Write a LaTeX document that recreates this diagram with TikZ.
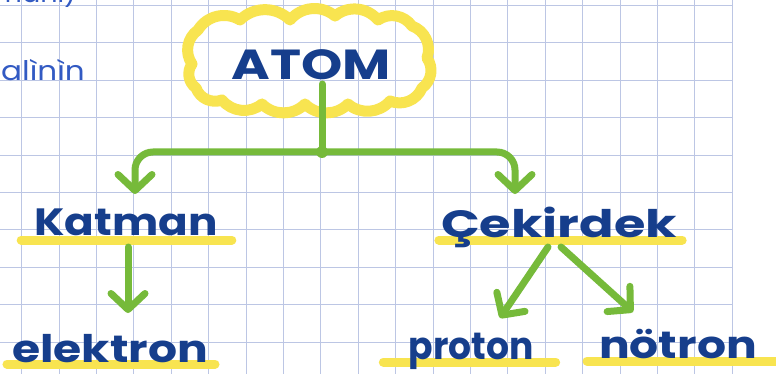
\documentclass[tikz,border=0pt]{standalone}
\usepackage{fontspec}
\newfontfamily\hand{Poppins}
\usetikzlibrary{arrows.meta}
\definecolor{ink}{RGB}{22,62,140}
\definecolor{pen}{RGB}{50,90,195}
\definecolor{hlyel}{RGB}{248,228,80}
\definecolor{grn}{RGB}{118,186,58}
\definecolor{gridc}{RGB}{188,198,228}
\pgfdeclarelayer{bg}
\pgfsetlayers{bg,main}
\tikzset{
  word/.style={font=\hand\bfseries\fontsize{38}{38}\selectfont, text=ink, inner sep=0pt},
  penword/.style={font=\hand\fontsize{27}{27}\selectfont, text=pen, inner sep=0pt},
  hl/.style={draw=hlyel, line width=9pt, line cap=round},
  cloudline/.style={draw=hlyel, line width=11pt, line join=round, line cap=round},
  gline/.style={draw=grn, line width=7pt, line cap=round, line join=round},
  garrow/.style={gline, -{Straight Barb[length=16pt,width=34pt,line cap=round,line join=round]}},
  gridline/.style={draw=gridc, line width=1pt}
}
\begin{document}
\begin{tikzpicture}[x=1pt,y=-1pt]
\useasboundingbox (0,0) rectangle (776,374);
\begin{pgfonlayer}{bg}
  \fill[white] (0,0) rectangle (776,374);
  \foreach \k in {0,...,19} \draw[gridline] ({21.7+37.4*\k},0) -- ({21.7+37.4*\k},374);
  \foreach \k in {0,...,9} \draw[gridline] (0,{5.5+37.4*\k}) -- (732,{5.5+37.4*\k});
\end{pgfonlayer}

% side notes
\node[penword, anchor=base west] (top) at (-6,3) {manı)};
\node[penword, anchor=base west] (al) at (1,81) {\scalebox{1.15}[1]{alìnìn}};

% cloud around the title
\draw[cloudline] (198,30) to[bend left=45] (240,20) to[bend left=45] (290,20)
  to[bend left=45] (335,16) to[bend left=45] (378,20) to[bend left=45] (412,26)
  to[bend left=45] (427,58) to[bend left=45] (422,88) to[bend left=45] (390,101)
  to[bend left=45] (348,104) to[bend left=45] (305,104) to[bend left=45] (262,104)
  to[bend left=45] (222,100) to[bend left=45] (196,88) to[bend left=45] (192,64)
  to[bend left=45] cycle;
\node[word, font=\hand\bfseries\fontsize{42}{42}\selectfont, anchor=base] (atom) at (311,80) {\scalebox{1.25}[1]{ATOM}};

% words
\node[word, anchor=base] (katman) at (126,236) {\scalebox{1.15}[1]{Katman}};
\node[word, anchor=base] (elektron) at (110,362) {\scalebox{1.2}[1]{elektron}};
\node[word, anchor=base] (cek) at (559,237) {\scalebox{1.34}[1]{Çekirdek}};
\node[word, anchor=base] (proton) at (471,359) {\scalebox{0.95}[1]{proton}};
\node[word, anchor=base] (notron) at (678,358) {\scalebox{1.2}[1]{nötron}};

% highlighter underlines
\begin{pgfonlayer}{bg}
  \draw[hl] ([shift={(-13,4)}]katman.base west) -- ([shift={(14,4)}]katman.base east);
  \draw[hl] ([shift={(-5,2)}]elektron.base west) -- ([shift={(7,2)}]elektron.base east);
  \draw[hl] ([shift={(-2,3)}]cek.base west) -- ([shift={(5,3)}]cek.base east);
  \draw[hl] ([shift={(-25,3)}]proton.base west) -- ([shift={(22,3)}]proton.base east);
  \draw[hl] ([shift={(-12,3)}]notron.base west) -- ([shift={(19,3)}]notron.base east);
\end{pgfonlayer}

% connectors
\coordinate (j) at (322,152);
\coordinate (tipL) at (135,194);
\coordinate (tipR) at (515,194);
\draw[gline] ([shift={(11,4)}]atom.base) -- (j);
\fill[grn] (j) circle (6pt);
\draw[garrow, rounded corners=18pt] (j) -| (tipL);
\draw[garrow, rounded corners=18pt] (j) -| (tipR);
\draw[garrow] ([shift={(2,11)}]katman.base) -- ([shift={(18,-49)}]elektron.base);
\draw[garrow] ([shift={(-11,10)}]cek.base) -- ([shift={(29,-41)}]proton.base);
\draw[garrow] ([shift={(2,10)}]cek.base) -- ([shift={(-45,-46)}]notron.base);
\end{tikzpicture}
\end{document}
